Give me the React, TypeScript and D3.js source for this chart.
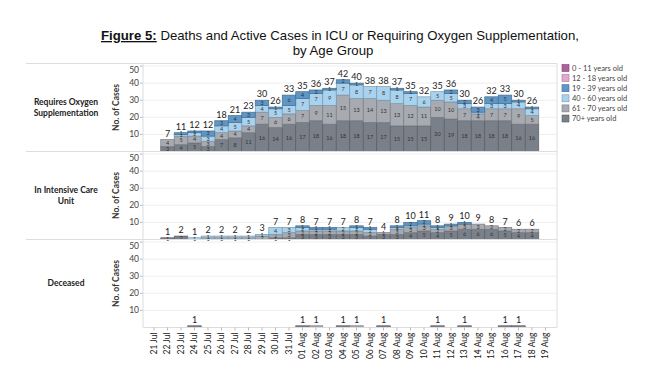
import React from "react";
import * as d3 from "d3";

const dates = [
  "21 Jul","22 Jul","23 Jul","24 Jul","25 Jul","26 Jul","27 Jul","28 Jul","29 Jul","30 Jul","31 Jul",
  "01 Aug","02 Aug","03 Aug","04 Aug","05 Aug","06 Aug","07 Aug","08 Aug","09 Aug","10 Aug",
  "11 Aug","12 Aug","13 Aug","14 Aug","15 Aug","16 Aug","17 Aug","18 Aug","19 Aug",
];

const ageGroups = ["0 - 11 years old","12 - 18 years old","19 - 39 years old","40 - 60 years old","61 - 70 years old","70+ years old"];
const ageColors = ["#b0609e","#e2a6d2","#5e96c6","#a9d2ee","#a7abb1","#7a8089"];

// Requires Oxygen Supplementation
const oxy70 = [0,3,4,5,3,7,8,11,16,14,16,17,18,16,18,18,17,17,15,15,15,20,19,18,18,18,18,16,16,0];
const oxy61 = [0,4,5,4,3,4,4,4,7,6,6,7,9,11,15,13,14,13,13,12,11,10,10,7,4,7,7,9,5,0];
const oxy40 = [0,0,1,2,3,4,5,5,4,5,5,7,7,9,7,8,7,8,8,7,6,5,5,3,1,3,3,4,4,0];
const oxy19 = [0,0,1,1,3,3,4,3,3,1,6,4,2,1,2,1,0,0,1,1,0,0,2,2,3,4,5,1,1,0];

// In Intensive Care Unit
const icu70 = [0,1,2,0,0,0,0,0,0,1,1,3,3,3,3,3,2,3,3,4,5,4,5,6,6,6,5,4,4,0];
const icu61 = [0,0,0,0,1,1,1,1,2,2,3,2,2,2,2,2,2,1,3,3,3,2,3,3,3,2,2,2,2,0];
const icu40 = [0,0,0,1,1,1,1,1,1,4,3,2,1,1,2,2,2,0,1,1,1,1,0,0,0,0,0,0,0,0];
const icu19 = [0,0,0,0,0,0,0,0,0,0,0,1,1,1,0,1,1,0,1,2,2,1,1,1,0,0,0,0,0,0];

// Deceased
const dec70 = [0,0,0,1,0,0,0,0,0,0,0,1,0,0,1,0,0,1,0,0,0,1,0,1,0,0,1,1,0,0];
const dec61 = [0,0,0,0,0,0,0,0,0,0,0,0,1,0,0,1,0,0,0,0,0,0,0,0,0,0,0,0,0,0];

const yTicks = [10, 20, 30, 40, 50];

const panels = [
  { title: ["Requires Oxygen", "Supplementation"], series: [oxy70, oxy61, oxy40, oxy19], colorIdx: [5, 4, 3, 2] },
  { title: ["In Intensive Care", "Unit"], series: [icu70, icu61, icu40, icu19], colorIdx: [5, 4, 3, 2] },
  { title: ["Deceased"], series: [dec70, dec61], colorIdx: [5, 4] },
];

const FONT = "Lato, 'Open Sans', sans-serif";

export default function App() {
  const W = 667, H = 382;
  const plotL = 143, plotR = 557;
  const panelTop0 = 63.5, panelH = 88;
  const x = d3.scaleBand<string>().domain(dates).range([147.25, 552.25]).padding(0);
  const bw = x.bandwidth();

  const panelEls = panels.map((p, pi) => {
    const top = panelTop0 + pi * panelH;
    const bottom = top + panelH;
    const y = d3.scaleLinear().domain([0, 51.5]).range([bottom, top]);
    const table = dates.map((d, i) => {
      const row: any = { date: d };
      p.series.forEach((s, k) => (row["k" + k] = s[i]));
      return row;
    });
    const keys = p.series.map((_, k) => "k" + k);
    const stacked = d3.stack().keys(keys)(table as any);
    const totals = dates.map((_, i) => p.series.reduce((a, s) => a + s[i], 0));
    return (
      <g key={pi}>
        {yTicks.map((t) => (
          <line key={t} x1={plotL} x2={plotR} y1={y(t)} y2={y(t)} stroke="#efefef" strokeWidth={1} />
        ))}
        {yTicks.map((t) => (
          <g key={"t" + t}>
            <line x1={plotL - 3} x2={plotL} y1={y(t)} y2={y(t)} stroke="#aaa" strokeWidth={0.8} />
            <text x={plotL - 4} y={t === 50 ? y(t) + 4 : y(t)} dy="0.35em" textAnchor="end" fontSize={8.5} fill="#444" fontFamily={FONT}>{t}</text>
          </g>
        ))}
        <text transform={`translate(116,${(top + bottom) / 2}) rotate(-90)`} textAnchor="middle" dy="0.35em" fontSize={8.5} fontWeight="bold" fill="#333" fontFamily={FONT}>No. of Cases</text>
        {p.title.map((t, ti) => (
          <text key={ti} x={66} y={(top + bottom) / 2 + (ti - (p.title.length - 1) / 2) * 10.8} dy="0.35em" textAnchor="middle" fontSize={8.5} fontWeight="bold" fill="#222" fontFamily={FONT}>{t}</text>
        ))}
        {stacked.map((layer, k) => {
          const fill = ageColors[p.colorIdx[k]];
          const stroke = d3.color(fill)!.darker(0.9).formatHex();
          return (
            <g key={k}>
              {layer.map((seg, i) => {
                const v = seg[1] - seg[0];
                if (v <= 0) return null;
                const x0 = x(dates[i])!;
                return (
                  <g key={i}>
                    <rect x={x0} y={y(seg[1])} width={bw} height={y(seg[0]) - y(seg[1])} fill={fill} stroke={stroke} strokeWidth={0.7} />
                    {pi < 2 && (
                      <text x={x0 + bw / 2} y={(y(seg[0]) + y(seg[1])) / 2} dy="0.35em" textAnchor="middle" fontSize={5.5} fill="#333" fontFamily={FONT}>{v}</text>
                    )}
                  </g>
                );
              })}
            </g>
          );
        })}
        {totals.map((t, i) =>
          t > 0 ? (
            <text key={"tot" + i} x={x(dates[i])! + bw / 2} y={y(t) - 3} textAnchor="middle" fontSize={9} fill="#222" fontFamily={FONT}>{t}</text>
          ) : null
        )}
        <line x1={26} x2={plotR} y1={top} y2={top} stroke="#ddd" strokeWidth={1} />
      </g>
    );
  });

  const axisY = panelTop0 + 3 * panelH;

  return (
    <svg width={W} height={H} style={{ position: "absolute", left: 0, top: 0, background: "#fff" }}>
      <text x={340} y={40} textAnchor="middle" fontSize={13.2} fill="#111" fontFamily="'Liberation Sans', Arial, sans-serif">
        <tspan fontWeight="bold" textDecoration="underline">Figure 5:</tspan>
        <tspan> Deaths and Active Cases in ICU or Requiring Oxygen Supplementation,</tspan>
      </text>
      <text x={333} y={55} textAnchor="middle" fontSize={13.2} fill="#111" fontFamily="'Liberation Sans', Arial, sans-serif">by Age Group</text>
      {panelEls}
      <line x1={plotL} x2={plotL} y1={panelTop0} y2={axisY} stroke="#ddd" strokeWidth={1} />
      <line x1={plotR} x2={plotR} y1={panelTop0} y2={axisY} stroke="#ddd" strokeWidth={1} />
      <line x1={plotL} x2={plotR} y1={axisY} y2={axisY} stroke="#ddd" strokeWidth={1} />
      {dates.map((d) => {
        const cx = x(d)! + bw / 2;
        return (
          <g key={d}>
            <line x1={cx} x2={cx} y1={axisY} y2={axisY + 3} stroke="#aaa" strokeWidth={0.8} />
            <text transform={`translate(${cx},${axisY + 5}) rotate(-90)`} textAnchor="end" dy="0.35em" fontSize={8.5} fill="#222" fontFamily={FONT}>{d}</text>
          </g>
        );
      })}
      {ageGroups.map((g, i) => (
        <g key={g} transform={`translate(562,${64.5 + i * 10.1})`}>
          <rect x={0} y={0} width={7} height={7} fill={ageColors[i]} stroke={d3.color(ageColors[i])!.darker(0.9).formatHex()} strokeWidth={0.6} />
          <text x={10} y={3.8} dy="0.35em" fontSize={7.5} fill="#444" fontFamily={FONT}>{g}</text>
        </g>
      ))}
    </svg>
  );
}
